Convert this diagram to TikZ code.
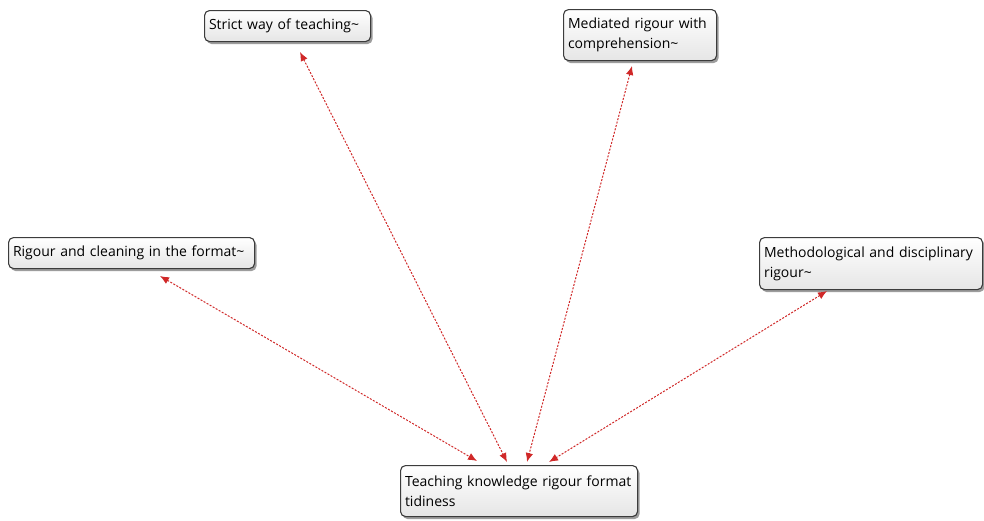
\documentclass[tikz,border=0pt]{standalone}
\usepackage{fontspec}
\setmainfont{Open Sans}
\usetikzlibrary{arrows.meta,shadows}
\definecolor{linkred}{HTML}{D02828}
\definecolor{boxedge}{HTML}{3C3C3C}
\tikzset{
  concept/.style n args={2}{
    draw=boxedge, line width=1.1pt, rounded corners=5pt,
    top color=white, bottom color=black!10,
    drop shadow={shadow xshift=2pt, shadow yshift=-2.5pt, opacity=0.55, fill=black!70},
    anchor=north west, inner xsep=4.5pt, inner ysep=2pt,
    text width=#1-9pt, minimum height=#2, align=left,
    font=\fontsize{14}{20}\selectfont
  },
  link/.style={
    draw=linkred, line width=1pt, dash pattern=on 2pt off 1.5pt,
    {Latex[length=9pt,width=7.5pt]}-{Latex[length=9pt,width=7.5pt]}
  }
}
\begin{document}
% labels wrap between words only
\hyphenpenalty=10000
\exhyphenpenalty=10000
\begin{tikzpicture}[x=1pt,y=-1pt]
\useasboundingbox (0,0) rectangle (984,520);

% concept boxes
\node[concept={166pt}{31pt}] (strict) at (204,10) {Strict way of teaching\textasciitilde};
\node[concept={153pt}{51pt}] (mediated) at (563,9) {Mediated rigour with comprehension\textasciitilde};
\node[concept={246pt}{31pt}] (cleaning) at (8,237) {Rigour and cleaning in the format\textasciitilde};
\node[concept={223pt}{52pt}] (method) at (759,237) {Methodological and disciplinary rigour\textasciitilde};
\node[concept={237pt}{51pt}] (teaching) at (400,465) {Teaching knowledge rigour format tidiness};

% connector end points
\coordinate (strictEnd) at (300,52);
\coordinate (mediatedEnd) at (632,66);
\coordinate (cleaningEnd) at (160,276);
\coordinate (methodEnd) at (827,291);
\coordinate (tA) at (477,461);
\coordinate (tB) at (507,462);
\coordinate (tC) at (527,462);
\coordinate (tD) at (549,462);

% bidirectional links
\draw[link] (cleaningEnd) -- (tA);
\draw[link] (strictEnd) -- (tB);
\draw[link] (mediatedEnd) -- (tC);
\draw[link] (methodEnd) -- (tD);
\end{tikzpicture}
\end{document}
